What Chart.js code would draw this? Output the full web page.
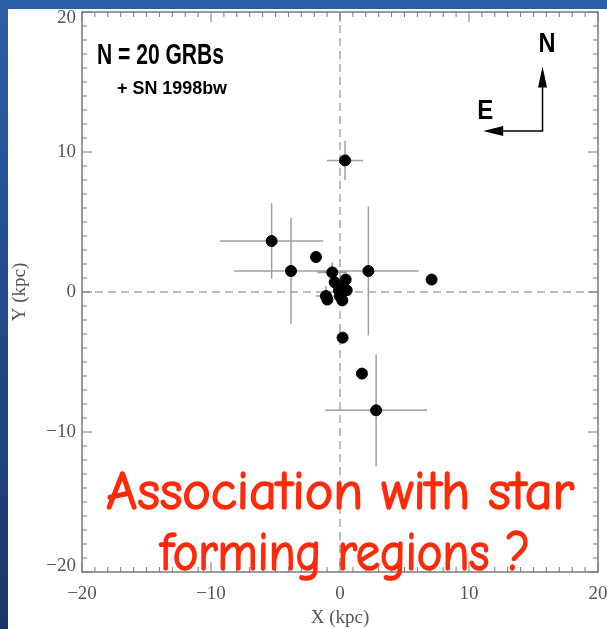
<!DOCTYPE html>
<html>
<head>
<meta charset="utf-8">
<script src="https://cdn.jsdelivr.net/npm/chart.js@4.4.1/dist/chart.umd.min.js"></script>
<style>
  html, body { margin: 0; padding: 0; }
  body { width: 607px; height: 629px; position: relative; overflow: hidden;
         background: linear-gradient(to bottom, #2d5ea8, #1b3767); }
  #paper { position: absolute; left: 8px; top: 9px; width: 599px; height: 620px; background: #fff; }
  #wrap { position: absolute; left: 0; top: 0; width: 607px; height: 629px; }
</style>
</head>
<body>
<div id="paper"></div>
<div id="wrap"><canvas id="chart"></canvas></div>
<script>
// host offsets (kpc)
var xs   = [0.39, -5.3, -3.8, 2.2, -1.86, -0.6, 7.1, 0.44, -0.41, -0.08, 0.52, 0.13, -1.09, -0.98, 0.18, 0.2, 1.7, 2.8, 0.3, 0.0];
var ys   = [9.4, 3.64, 1.5, 1.5, 2.5, 1.4, 0.89, 0.89, 0.69, 0.12, 0.12, -0.07, -0.29, -0.54, -0.6, -3.26, -5.83, -8.45, 0.3, -0.3];
var xErr = [1.4, 4.0, 4.4, 3.9, 0, 1.15, 0, 0, 0, 0, 0, 0, 0.8, 0, 0, 0, 0, 3.95, 0, 0];
var yErr = [1.4, 2.7, 3.8, 4.6, 0, 0.7, 0, 0, 0, 0, 0, 0, 0.7, 0, 0, 0, 0, 4.0, 0, 0];

var axisMin = -20, axisMax = 20, majorStep = 10, minorStep = 1;
var compass = [15.7, 11.5, 4.6]; // corner x, corner y, arm length (kpc)

var tickFont = { family: '"Liberation Serif", "DejaVu Serif", serif', size: 19 };
var grey = '#555';

function fmt(v) {
  return v < 0 ? '\u2212' + (-v) : '' + v;
}

function noOverhang(s) {
  s.paddingLeft = 0; s.paddingRight = 0; s.paddingTop = 0; s.paddingBottom = 0;
}

var points = xs.map(function(x, i) { return { x: x, y: ys[i] }; });

var decor = {
  id: 'decor',
  beforeDatasetsDraw: function(chart) {
    var ctx = chart.ctx, a = chart.chartArea, sx = chart.scales.x, sy = chart.scales.y;
    ctx.save();
    // dashed zero lines
    ctx.strokeStyle = '#a8a8a8';
    ctx.lineWidth = 1.5;
    ctx.setLineDash([8, 5]);
    ctx.beginPath();
    ctx.moveTo(sx.getPixelForValue(0), a.top);
    ctx.lineTo(sx.getPixelForValue(0), a.bottom);
    ctx.moveTo(a.left, sy.getPixelForValue(0));
    ctx.lineTo(a.right, sy.getPixelForValue(0));
    ctx.stroke();
    ctx.setLineDash([]);
    // error bars
    ctx.strokeStyle = '#a0a0a0';
    ctx.lineWidth = 1.5;
    ctx.beginPath();
    for (var i = 0; i < xs.length; i++) {
      var px = sx.getPixelForValue(xs[i]), py = sy.getPixelForValue(ys[i]);
      if (xErr[i] > 0) {
        ctx.moveTo(sx.getPixelForValue(xs[i] - xErr[i]), py);
        ctx.lineTo(sx.getPixelForValue(xs[i] + xErr[i]), py);
      }
      if (yErr[i] > 0) {
        ctx.moveTo(px, sy.getPixelForValue(ys[i] - yErr[i]));
        ctx.lineTo(px, sy.getPixelForValue(ys[i] + yErr[i]));
      }
    }
    ctx.stroke();
    ctx.restore();
  },
  afterDraw: function(chart) {
    var ctx = chart.ctx, a = chart.chartArea, sx = chart.scales.x, sy = chart.scales.y;
    ctx.save();
    // frame
    ctx.strokeStyle = '#7a7a7a';
    ctx.lineWidth = 1.5;
    ctx.strokeRect(a.left, a.top, a.right - a.left, a.bottom - a.top);
    // inward ticks on all four sides
    ctx.lineWidth = 1;
    ctx.beginPath();
    for (var v = axisMin; v <= axisMax; v += minorStep) {
      var len = (v % majorStep === 0) ? 10 : 5;
      var px = sx.getPixelForValue(v), py = sy.getPixelForValue(v);
      ctx.moveTo(px, a.bottom); ctx.lineTo(px, a.bottom - len);
      ctx.moveTo(px, a.top);    ctx.lineTo(px, a.top + len);
      ctx.moveTo(a.left, py);   ctx.lineTo(a.left + len, py);
      ctx.moveTo(a.right, py);  ctx.lineTo(a.right - len, py);
    }
    ctx.stroke();

    // y tick labels, end labels kept inside the axis span
    ctx.font = tickFont.size + 'px ' + tickFont.family;
    ctx.fillStyle = grey;
    ctx.textAlign = 'right';
    ctx.textBaseline = 'middle';
    sy.ticks.forEach(function(t) {
      var shift = t.value === axisMax ? 6 : (t.value === axisMin ? -6 : 0);
      ctx.fillText(fmt(t.value), a.left - 6, sy.getPixelForValue(t.value) + shift);
    });

    // labels top-left
    ctx.fillStyle = '#000';
    ctx.textBaseline = 'alphabetic';
    ctx.textAlign = 'left';
    function squeezed(text, font, x, y, w, thick) {
      ctx.font = font;
      var m = ctx.measureText(text).width;
      ctx.save();
      ctx.translate(x, y);
      ctx.scale(w / m, 1);
      ctx.fillText(text, 0, 0);
      if (thick) {
        ctx.lineWidth = thick;
        ctx.lineJoin = 'round';
        ctx.strokeStyle = ctx.fillStyle;
        ctx.strokeText(text, 0, 0);
      }
      ctx.restore();
    }
    squeezed('N = 20 GRBs', 'bold 29px "Liberation Sans", Arial, sans-serif', a.left + 15, a.top + 52, 127);
    squeezed('+ SN 1998bw', 'bold 19px "Liberation Sans", Arial, sans-serif', a.left + 35, a.top + 82, 110);

    // compass
    var cx = sx.getPixelForValue(compass[0]), cy = sy.getPixelForValue(compass[1]);
    var tipY = sy.getPixelForValue(compass[1] + compass[2]);
    var tipX = sx.getPixelForValue(compass[0] - compass[2]);
    ctx.strokeStyle = '#000';
    ctx.lineWidth = 1.5;
    ctx.beginPath();
    ctx.moveTo(cx, tipY + 15); ctx.lineTo(cx, cy); ctx.lineTo(tipX + 15, cy);
    ctx.stroke();
    ctx.beginPath();
    ctx.moveTo(cx, tipY); ctx.lineTo(cx - 4.5, tipY + 21); ctx.lineTo(cx + 4.5, tipY + 21); ctx.closePath();
    ctx.moveTo(tipX, cy); ctx.lineTo(tipX + 20, cy - 5); ctx.lineTo(tipX + 20, cy + 5); ctx.closePath();
    ctx.fill();
    squeezed('N', 'bold 27px "Liberation Sans", Arial, sans-serif', cx - 4, tipY - 15, 17);
    squeezed('E', 'bold 27px "Liberation Sans", Arial, sans-serif', tipX - 6, cy - 12, 16);

    // red question
    var fam = '"Comic Sans MS", "Comic Neue", cursive';
    ctx.font = '48px ' + fam;
    var size = 48 * 468 / ctx.measureText('Association with star').width;
    ctx.fillStyle = '#ff2a0a';
    var mid = sx.getPixelForValue(0);
    squeezed('Association with star', size + 'px ' + fam, mid - 234, 509, 468, 1.6);
    squeezed('forming regions ?', size + 'px ' + fam, mid - 180, 570, 370, 1.6);
    ctx.restore();
  }
};

new Chart(document.getElementById('chart'), {
  type: 'scatter',
  data: {
    datasets: [{
      data: points,
      backgroundColor: '#000',
      borderColor: '#000',
      pointRadius: 5.5,
      pointHoverRadius: 5.5
    }]
  },
  options: {
    responsive: true,
    maintainAspectRatio: false,
    animation: false,
    layout: { padding: { left: 0, top: 12, right: 9, bottom: 0 } },
    plugins: { legend: { display: false }, tooltip: { enabled: false } },
    scales: {
      x: {
        type: 'linear', min: axisMin, max: axisMax,
        ticks: { stepSize: majorStep, font: tickFont, color: grey, padding: 11, callback: fmt, maxRotation: 0 },
        grid: { drawOnChartArea: false, drawTicks: false },
        border: { display: false },
        title: { display: true, text: 'X (kpc)', font: tickFont, color: grey, padding: { top: 0, bottom: 0 } },
        afterFit: function(s) { s.height = 57; noOverhang(s); }
      },
      y: {
        type: 'linear', min: axisMin, max: axisMax,
        ticks: { stepSize: majorStep, display: false },
        grid: { drawOnChartArea: false, drawTicks: false },
        border: { display: false },
        title: { display: true, text: 'Y (kpc)', font: tickFont, color: grey, padding: { top: 9, bottom: 0 } },
        afterFit: function(s) { s.width = 82; noOverhang(s); }
      }
    }
  },
  plugins: [decor]
});
</script>
</body>
</html>
